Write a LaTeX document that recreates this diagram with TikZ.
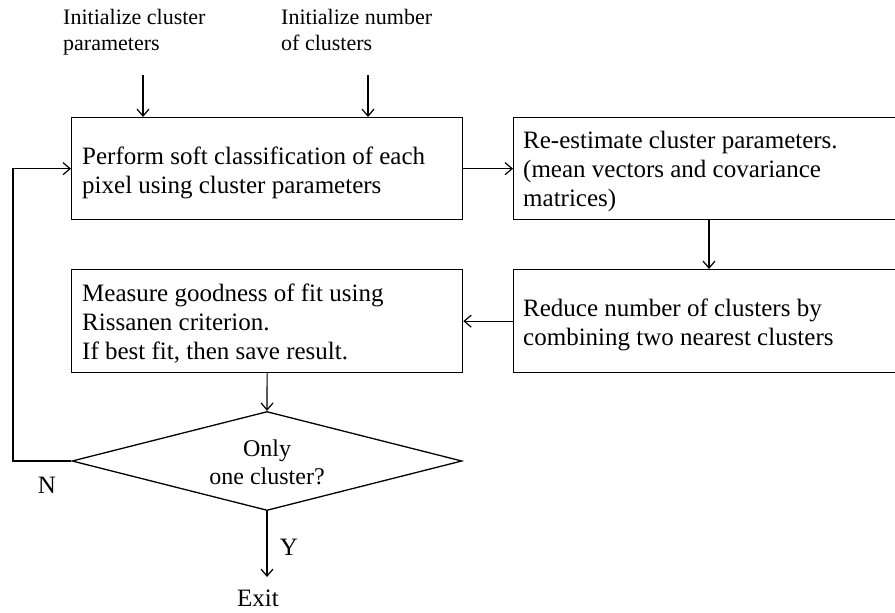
\documentclass[tikz,border=0pt]{standalone}
\usepackage{fontspec}
\setmainfont{Liberation Serif}
\usetikzlibrary{arrows.meta,shapes.geometric}
\begin{document}
\begin{tikzpicture}[x=1pt,y=-1pt,
  box/.style={draw, line width=1.3pt, rectangle, anchor=north west, inner sep=0pt},
  txt/.style={anchor=west, inner sep=0pt, align=left, font=\fontsize{25}{29}\selectfont},
  arr/.style={line width=1.2pt, -{Straight Barb[length=7pt,width=12pt,line width=1.2pt]}},
  lbl/.style={inner sep=0pt, font=\fontsize{25}{29}\selectfont},
  toplbl/.style={inner sep=0pt, anchor=north west, align=left, font=\fontsize{22}{26}\selectfont}]
\useasboundingbox (0,0) rectangle (895,613);
\begin{scope}
\clip (0,0) rectangle (895,613);
\node[box, minimum width=391pt, minimum height=102pt] (b1) at (71,117) {};
\node[txt] (b1t) at ([xshift=11pt, yshift=-4pt]b1.west) {Perform soft classification of each\\pixel using cluster parameters};
\node[box, minimum width=396pt, minimum height=102pt] (b2) at (513,117) {};
\node[txt] (b2t) at ([xshift=10pt, yshift=-3pt]b2.west) {Re-estimate cluster parameters.\\(mean vectors and covariance\\matrices)};
\node[box, minimum width=396pt, minimum height=103pt] (b3) at (513,269) {};
\node[txt] (b3t) at ([xshift=10pt, yshift=-4pt]b3.west) {Reduce number of clusters by\\combining two nearest clusters};
\node[box, minimum width=391pt, minimum height=103pt] (b4) at (71,269) {};
\node[txt] (b4t) at ([xshift=11pt, yshift=-2pt]b4.west) {Measure goodness of fit using\\Rissanen criterion.\\If best fit, then save result.};
\node[draw, diamond, line width=1.3pt, minimum width=390pt, minimum height=99pt, shape aspect=3.94, inner sep=0pt] (d) at (267,461) {};
\node[align=center, inner sep=0pt, font=\fontsize{24}{28}\selectfont] (dt) at ([yshift=-1pt]d.center) {Only\\one cluster?};
\node[toplbl] (t1) at (63,9) {Initialize cluster\\parameters};
\node[toplbl] (t2) at (281,9) {Initialize number\\of clusters};
\node[lbl] (n) at (47,485) {N};
\node[lbl] (y) at (289,547) {Y};
\node[lbl] (exit) at (258,598) {Exit};
\coordinate (i1) at (143,75);
\coordinate (i2) at (368,75);
\coordinate (nl) at (13,461);
\coordinate (ye) at (267,577);
\coordinate (m23) at (709,0);
\draw[arr] (i1) -- (i1 |- b1.north);
\draw[arr] (i2) -- (i2 |- b1.north);
\draw[arr] (b1.east) -- (b2.west);
\draw[arr] (m23 |- b2.south) -- (m23 |- b3.north);
\draw[arr] (b3.west) -- (b4.east);
\draw[arr] (b4.south) -- (d.north);
\draw[arr] (d.west) -- (nl) |- (b1.west);
\draw[arr] (d.south) -- (ye);
\end{scope}
\end{tikzpicture}
\end{document}
